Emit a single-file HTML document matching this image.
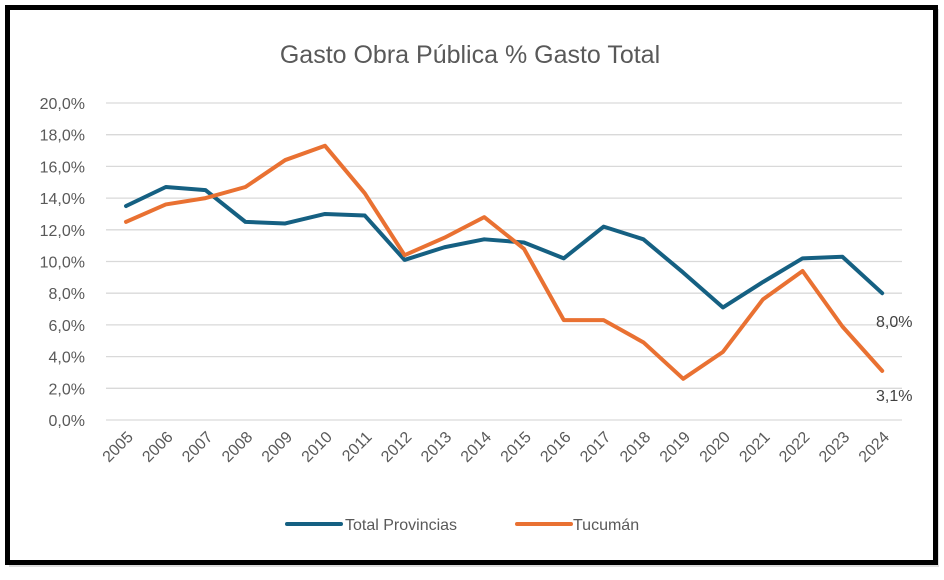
<!DOCTYPE html>
<html><head><meta charset="utf-8"><style>
html,body{margin:0;padding:0;background:#fff;width:944px;height:580px;overflow:hidden}
svg{display:block;font-family:"Liberation Sans",sans-serif}
</style></head><body>
<svg id="s" width="944" height="580" viewBox="0 0 944 580">
<rect x="9" y="9" width="930" height="558" fill="#ddd"/>
<rect x="7.5" y="7.5" width="928" height="555" fill="#fff" stroke="#000" stroke-width="5"/>
<text x="470" y="63" text-anchor="middle" font-size="25" fill="#595959">Gasto Obra Pública % Gasto Total</text>
<g id="g"></g>
<line x1="287" y1="524" x2="341" y2="524" stroke="#156082" stroke-width="4" stroke-linecap="round"/>
<text x="345" y="530" font-size="16" fill="#595959">Total Provincias</text>
<line x1="517" y1="524" x2="571" y2="524" stroke="#E97132" stroke-width="4" stroke-linecap="round"/>
<text x="573" y="530" font-size="16" fill="#595959">Tucumán</text>
<text x="876" y="327" font-size="16" fill="#404040">8,0%</text>
<text x="876" y="401" font-size="16" fill="#404040">3,1%</text>
</svg>
<script>
var g=document.getElementById('g'),h='';
function Y(v){return 420-v*15.85}
for(var i=0;i<=10;i++){var y=Y(i*2);h+='<line x1="106" x2="902" y1="'+y+'" y2="'+y+'" stroke="#d9d9d9" stroke-width="1.3"/>';
h+='<text x="85" y="'+(y+6)+'" text-anchor="end" font-size="16" fill="#595959">'+(i*2)+',0%</text>';}
var a=[13.5,14.7,14.5,12.5,12.4,13.0,12.9,10.1,10.9,11.4,11.2,10.2,12.2,11.4,9.3,7.1,8.7,10.2,10.3,8.0];
var b=[12.5,13.6,14.0,14.7,16.4,17.3,14.3,10.4,11.5,12.8,10.8,6.3,6.3,4.9,2.6,4.3,7.6,9.4,5.9,3.1];
function X(i){return 126+i*39.8}
for(var i=0;i<20;i++){h+='<text transform="translate('+(X(i)+8)+',438) rotate(-45)" text-anchor="end" font-size="16" fill="#595959">'+(2005+i)+'</text>';}
function P(d,c){return '<polyline fill="none" stroke="'+c+'" stroke-width="4" stroke-linejoin="round" stroke-linecap="round" points="'+d.map(function(v,i){return X(i)+','+Y(v)}).join(' ')+'"/>'}
h+=P(a,'#156082')+P(b,'#E97132');
g.innerHTML=h;
</script>
</body></html>
